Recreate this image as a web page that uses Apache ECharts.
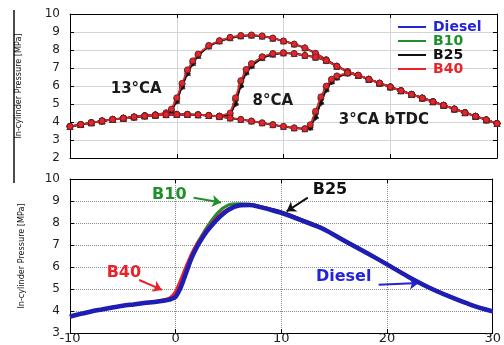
<!DOCTYPE html>
<html>
<head>
<meta charset="utf-8">
<script src="https://cdn.jsdelivr.net/npm/echarts@6/dist/echarts.min.js"></script>
<style>
  html, body { margin: 0; padding: 0; background: #fff; }
  #main { width: 504px; height: 345px; }
</style>
</head>
<body>
<div id="main"></div>
<script>
// fuels
var fuels = ['Diesel', 'B10', 'B25', 'B40'];
var fuelColors = ['#2323d8', '#1f8f2a', '#111111', '#e8232b'];
var fuelSymbols = ['triangle', 'circle', 'diamond', 'circle'];

// top plot: injection timing 13 degCA bTDC
var x13 = [-10,-9,-8,-7,-6,-5,-4,-3,-2,-1,-0.5,0,0.5,1,1.5,2,3,4,5,6,7,8,9,10,11,12,13,14,15,16,17,18,19,20,21,22,23,24,25,26,27,28,29,30];
var diesel13 = [3.75,3.86,3.96,4.06,4.14,4.21,4.28,4.34,4.39,4.48,4.62,5.2,6.0,6.75,7.3,7.7,8.22,8.5,8.68,8.78,8.82,8.77,8.65,8.5,8.33,8.12,7.82,7.46,7.1,6.8,6.6,6.38,6.16,5.95,5.74,5.53,5.33,5.13,4.93,4.72,4.52,4.32,4.12,3.92];
var b10_13 = [3.76,3.86,3.97,4.06,4.15,4.22,4.28,4.35,4.4,4.5,4.66,5.3,6.1,6.85,7.35,7.75,8.25,8.52,8.7,8.8,8.83,8.78,8.66,8.5,8.32,8.1,7.8,7.45,7.1,6.8,6.58,6.37,6.15,5.95,5.74,5.54,5.33,5.13,4.93,4.72,4.52,4.32,4.12,3.92];
var b25_13 = [3.75,3.85,3.96,4.05,4.14,4.21,4.27,4.34,4.39,4.47,4.6,5.15,5.95,6.7,7.25,7.68,8.2,8.48,8.66,8.77,8.81,8.77,8.65,8.5,8.34,8.13,7.83,7.47,7.12,6.82,6.6,6.38,6.16,5.95,5.75,5.54,5.34,5.14,4.93,4.73,4.53,4.32,4.12,3.92];
var b40_13 = [3.75,3.86,3.96,4.06,4.14,4.21,4.28,4.34,4.4,4.52,4.72,5.35,6.15,6.9,7.4,7.78,8.25,8.52,8.7,8.8,8.83,8.78,8.66,8.5,8.33,8.12,7.82,7.46,7.1,6.8,6.6,6.38,6.16,5.95,5.74,5.53,5.33,5.13,4.93,4.72,4.52,4.32,4.12,3.92];

// top plot: 8 degCA bTDC
var x8 = [-10,-9,-8,-7,-6,-5,-4,-3,-2,-1,0,1,2,3,4,5,5.5,6,6.5,7,8,9,10,11,12,13,14,15,16,17,18,19,20,21,22,23,24,25,26,27,28,29,30];
var diesel8 = [3.75,3.86,3.96,4.06,4.14,4.21,4.28,4.34,4.38,4.41,4.42,4.42,4.4,4.36,4.32,4.4,5.1,6.1,6.8,7.15,7.58,7.77,7.83,7.8,7.7,7.6,7.42,7.1,6.8,6.6,6.38,6.16,5.95,5.74,5.53,5.33,5.13,4.93,4.72,4.52,4.32,4.12,3.92];
var b10_8 = [3.76,3.86,3.97,4.06,4.15,4.22,4.28,4.35,4.39,4.42,4.43,4.43,4.41,4.37,4.33,4.45,5.25,6.25,6.9,7.22,7.62,7.8,7.85,7.8,7.7,7.58,7.4,7.08,6.78,6.58,6.37,6.15,5.95,5.74,5.54,5.33,5.13,4.93,4.72,4.52,4.32,4.12,3.92];
var b25_8 = [3.75,3.85,3.96,4.05,4.14,4.21,4.27,4.34,4.38,4.41,4.42,4.41,4.39,4.35,4.31,4.38,5.0,6.0,6.72,7.1,7.55,7.75,7.82,7.8,7.71,7.61,7.43,7.11,6.81,6.6,6.38,6.16,5.95,5.75,5.54,5.34,5.14,4.93,4.73,4.53,4.32,4.12,3.92];
var b40_8 = [3.75,3.86,3.96,4.06,4.14,4.21,4.28,4.34,4.38,4.41,4.42,4.42,4.4,4.36,4.33,4.5,5.35,6.3,6.92,7.25,7.62,7.8,7.85,7.8,7.7,7.6,7.42,7.1,6.8,6.6,6.38,6.16,5.95,5.74,5.53,5.33,5.13,4.93,4.72,4.52,4.32,4.12,3.92];

// top plot: 3 degCA bTDC
var x3 = [-10,-9,-8,-7,-6,-5,-4,-3,-2,-1,0,1,2,3,4,5,6,7,8,9,10,11,12,12.5,13,13.5,14,14.5,15,16,17,18,19,20,21,22,23,24,25,26,27,28,29,30];
var diesel3 = [3.75,3.86,3.96,4.06,4.14,4.21,4.28,4.34,4.38,4.41,4.42,4.42,4.4,4.36,4.3,4.22,4.14,4.05,3.95,3.85,3.75,3.67,3.62,3.72,4.35,5.15,5.85,6.28,6.5,6.72,6.6,6.38,6.16,5.95,5.74,5.53,5.33,5.13,4.93,4.72,4.52,4.32,4.12,3.92];
var b10_3 = [3.76,3.86,3.97,4.06,4.15,4.22,4.28,4.35,4.39,4.42,4.43,4.43,4.41,4.37,4.31,4.23,4.15,4.06,3.96,3.86,3.76,3.68,3.63,3.8,4.5,5.3,5.95,6.35,6.55,6.72,6.58,6.37,6.15,5.95,5.74,5.54,5.33,5.13,4.93,4.72,4.52,4.32,4.12,3.92];
var b25_3 = [3.75,3.85,3.96,4.05,4.14,4.21,4.27,4.34,4.38,4.41,4.42,4.41,4.39,4.35,4.29,4.21,4.13,4.04,3.94,3.84,3.74,3.66,3.61,3.68,4.25,5.05,5.78,6.22,6.47,6.7,6.6,6.38,6.16,5.95,5.75,5.54,5.34,5.14,4.93,4.73,4.53,4.32,4.12,3.92];
var b40_3 = [3.75,3.86,3.96,4.06,4.14,4.21,4.28,4.34,4.38,4.41,4.42,4.42,4.4,4.36,4.3,4.22,4.14,4.05,3.95,3.85,3.75,3.67,3.63,3.85,4.6,5.4,6.0,6.38,6.56,6.73,6.6,6.38,6.16,5.95,5.74,5.53,5.33,5.13,4.93,4.72,4.52,4.32,4.12,3.92];

// bottom plot
var xb = [-10,-9,-8,-7,-6,-5,-4,-3,-2,-1,-0.5,0,0.5,1,1.5,2,2.5,3,4,5,6,7,8,9,10,12,14,16,18,20,22,24,26,28,30];
var dieselB = [3.75,3.87,3.98,4.07,4.16,4.24,4.3,4.36,4.41,4.48,4.53,4.65,5.1,5.75,6.4,6.9,7.3,7.65,8.2,8.6,8.8,8.82,8.72,8.6,8.46,8.1,7.72,7.18,6.66,6.12,5.56,5.06,4.64,4.27,3.98];
var b10B = [3.75,3.87,3.98,4.07,4.16,4.24,4.3,4.36,4.41,4.49,4.56,4.75,5.25,5.9,6.55,7.05,7.45,7.85,8.48,8.82,8.88,8.85,8.72,8.6,8.46,8.1,7.72,7.18,6.66,6.12,5.56,5.06,4.64,4.27,3.98];
var b25B = [3.75,3.87,3.98,4.07,4.16,4.24,4.3,4.36,4.41,4.49,4.55,4.7,5.2,5.85,6.45,6.95,7.35,7.7,8.25,8.62,8.8,8.84,8.75,8.63,8.5,8.14,7.75,7.2,6.68,6.13,5.57,5.07,4.65,4.27,3.98];
var b40B = [3.75,3.87,3.98,4.07,4.16,4.24,4.3,4.36,4.42,4.52,4.62,4.9,5.45,6.05,6.6,7.05,7.4,7.75,8.3,8.65,8.8,8.84,8.72,8.6,8.46,8.1,7.72,7.18,6.66,6.12,5.56,5.06,4.64,4.27,3.98];

// annotations
var topNotes = ['13°CA', '8°CA', '3°CA bTDC'];
var topNoteX = [-3.8, 9.0, 19.4];
var topNoteY = [5.83, 5.17, 4.11];

var botNotes = ['B10', 'B40', 'B25', 'Diesel'];
var botNoteColors = ['#1f8f2a', '#e8232b', '#111111', '#2323d8'];
var botNoteX = [-0.6, -4.9, 14.6, 15.9];
var botNoteY = [9.29, 5.72, 9.51, 5.54];
var arrowFrom = [[1.7, 9.15], [-3.45, 5.41], [12.5, 9.15], [19.2, 5.19]];
var arrowTo = [[4.3, 8.93], [-1.3, 4.96], [10.5, 8.53], [23.0, 5.27]];

function zip(xs, ys) {
    return xs.map(function (x, i) { return [x, ys[i]]; });
}

var chart = echarts.init(document.getElementById('main'));

var series = [];
var topData = [
    [x13, [diesel13, b10_13, b25_13, b40_13]],
    [x8, [diesel8, b10_8, b25_8, b40_8]],
    [x3, [diesel3, b10_3, b25_3, b40_3]]
];
topData.forEach(function (t) {
    fuels.forEach(function (f, i) {
        series.push({
            name: f,
            type: 'line',
            xAxisIndex: 0,
            yAxisIndex: 0,
            data: zip(t[0], t[1][i]),
            symbol: fuelSymbols[i],
            symbolSize: 6,
            lineStyle: { color: fuelColors[i], width: 1.6 },
            itemStyle: { color: fuelColors[i], borderColor: '#4a2222', borderWidth: 0.7 },
            z: 2 + i
        });
    });
});

// bottom lines, diesel drawn last and thickest
var botData = [b10B, b25B, b40B, dieselB];
var botIdx = [1, 2, 3, 0];
botIdx.forEach(function (fi, k) {
    series.push({
        name: fuels[fi],
        type: 'line',
        xAxisIndex: 2,
        yAxisIndex: 2,
        data: zip(xb, botData[k]),
        showSymbol: false,
        symbol: 'none',
        smooth: 0.3,
        lineStyle: { color: fi === 0 ? '#1e1eb4' : fuelColors[fi], width: fi === 0 ? 4.5 : 3 },
        itemStyle: { color: fuelColors[fi] },
        z: 2 + k
    });
});

var noteFont = { fontFamily: 'DejaVu Sans', fontWeight: 'bold', fontSize: 15 };

// top text labels
series.push({
    type: 'line',
    xAxisIndex: 0,
    yAxisIndex: 0,
    data: [[topNoteX[0], topNoteY[0]]],
    symbol: 'none',
    lineStyle: { opacity: 0 },
    markPoint: {
        symbol: 'circle',
        symbolSize: 0,
        silent: true,
        label: Object.assign({ show: true, color: '#1a1a1a', formatter: function (p) { return p.name; } }, noteFont),
        data: topNotes.map(function (n, i) { return { name: n, coord: [topNoteX[i], topNoteY[i]] }; })
    },
    z: 10
});

// bottom text labels and arrows
series.push({
    type: 'line',
    xAxisIndex: 2,
    yAxisIndex: 2,
    data: [[botNoteX[0], botNoteY[0]]],
    symbol: 'none',
    lineStyle: { opacity: 0 },
    markPoint: {
        symbol: 'circle',
        symbolSize: 0,
        silent: true,
        label: Object.assign({ show: true, formatter: function (p) { return p.name; } }, noteFont, { fontSize: 16 }),
        data: botNotes.map(function (n, i) {
            return { name: n, coord: [botNoteX[i], botNoteY[i]], label: { color: botNoteColors[i] } };
        })
    },
    markLine: {
        silent: true,
        symbol: ['none', 'arrow'],
        symbolSize: 9,
        label: { show: false },
        data: arrowFrom.map(function (a, i) {
            return [
                { coord: a, lineStyle: { color: botNoteColors[i], width: 2, type: 'solid' } },
                { coord: arrowTo[i] }
            ];
        })
    },
    z: 10
});

function xAx(grid, labels, pos) {
    return {
        type: 'value', gridIndex: grid, position: pos, min: -10, max: 30, interval: 10,
        axisLine: { show: true, onZero: false, lineStyle: { color: '#000', width: 1 } },
        axisTick: { show: true, inside: true, length: 4, lineStyle: { color: '#000' } },
        axisLabel: { show: labels, margin: -1, fontFamily: 'DejaVu Sans', fontSize: 13, color: '#222' },
        splitLine: {
            show: pos === 'bottom',
            lineStyle: grid === 0 ? { color: '#d4d4d4', width: 1 } : { color: '#8a8a8a', width: 1, type: 'dotted' }
        }
    };
}
function yAx(grid, min, pos) {
    var yName = 'In-cylinder Pressure [MPa]';
    return {
        type: 'value', gridIndex: grid, position: pos, min: min, max: 10, interval: 1,
        name: pos === 'left' ? yName : '',
        nameLocation: 'middle',
        nameGap: grid === 0 ? 47 : 44,
        nameTextStyle: { fontFamily: 'DejaVu Sans Condensed, Liberation Sans, sans-serif', fontSize: 9, color: '#111' },
        axisLine: { show: true, onZero: false, lineStyle: { color: '#000', width: 1 } },
        axisTick: { show: true, inside: true, length: 4, lineStyle: { color: '#000' } },
        axisLabel: { show: pos === 'left', margin: 10, fontFamily: 'DejaVu Sans', fontSize: 12, color: '#222' },
        splitLine: {
            show: pos === 'left',
            lineStyle: grid === 0 ? { color: '#d4d4d4', width: 1 } : { color: '#8a8a8a', width: 1, type: 'dotted' }
        }
    };
}

var option = {
    animation: false,
    backgroundColor: '#fff',
    grid: [
        { left: 70, right: 7, top: 14, height: 144 },
        { left: 70, right: 7, top: 179, height: 157 }
    ],
    legend: {
        data: fuels.map(function (f, i) {
            return { name: f, textStyle: { color: fuelColors[i] }, itemStyle: { color: fuelColors[i], borderWidth: 0 } };
        }),
        orient: 'vertical',
        left: 393,
        top: 15,
        icon: 'rect',
        itemWidth: 28,
        itemHeight: 2,
        itemGap: 0,
        selectedMode: false,
        itemStyle: { borderWidth: 0 },
        textStyle: { fontFamily: 'DejaVu Sans', fontWeight: 'bold', fontSize: 14, lineHeight: 13.5, padding: [0, 0, 0, 2] }
    },
    xAxis: [xAx(0, false, 'bottom'), xAx(0, false, 'top'), xAx(1, true, 'bottom'), xAx(1, false, 'top')],
    yAxis: [yAx(0, 2, 'left'), yAx(0, 2, 'right'), yAx(1, 3, 'left'), yAx(1, 3, 'right')],
    graphic: [
        { type: 'line', shape: { x1: 14, y1: 10, x2: 14, y2: 183 }, style: { stroke: '#111', lineWidth: 1.5 } }
    ],
    series: series
};

chart.setOption(option);
</script>
</body>
</html>
